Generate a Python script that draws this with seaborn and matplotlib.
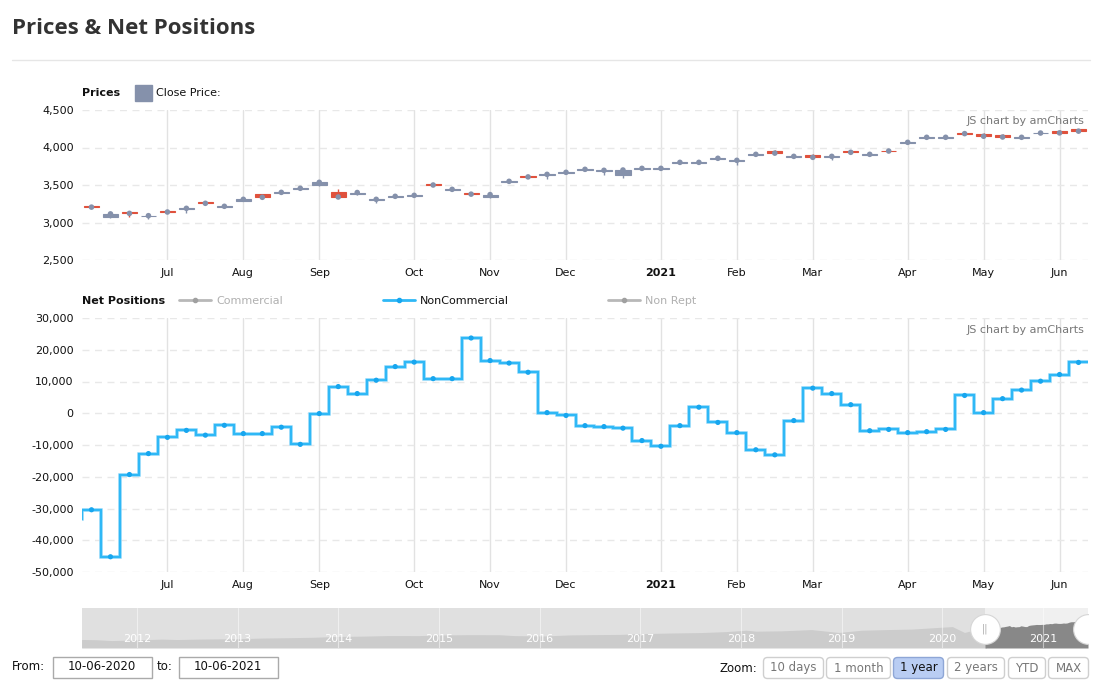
import numpy as np
import pandas as pd
import matplotlib
matplotlib.use("Agg")
import matplotlib.pyplot as plt
import seaborn as sns
from matplotlib.patches import Rectangle, FancyBboxPatch
from matplotlib.ticker import FuncFormatter, FixedLocator

# ---------------- data ----------------
week_start = "2020-06-02"          # first weekly report (partly outside view)
n_weeks = 54

opens = [3222, 3069, 3140, 3085, 3158, 3185, 3278, 3207, 3287, 3380, 3392, 3451, 3496,
         3411, 3380, 3305, 3345, 3355, 3518, 3438, 3398, 3336, 3545, 3615, 3635, 3665,
         3695, 3690, 3629, 3714, 3718, 3795, 3796, 3848, 3822, 3900, 3958, 3875, 3905,
         3876, 3958, 3903, 3958, 4062, 4128, 4130, 4190, 4184, 4171, 4130, 4188, 4224, 4242]
closes = [3205, 3115, 3122, 3091, 3140, 3189, 3256, 3216, 3309, 3336, 3402, 3456, 3536,
          3340, 3400, 3309, 3349, 3362, 3500, 3442, 3378, 3372, 3549, 3608, 3642, 3669,
          3709, 3696, 3700, 3722, 3722, 3802, 3802, 3856, 3829, 3909, 3925, 3882, 3869,
          3882, 3936, 3909, 3953, 4069, 4136, 4136, 4185, 4150, 4140, 4136, 4193, 4195, 4218]
highs = [3230, 3125, 3145, 3095, 3162, 3195, 3282, 3220, 3313, 3384, 3406, 3460, 3545,
         3451, 3405, 3312, 3352, 3366, 3522, 3446, 3402, 3378, 3553, 3618, 3646, 3673,
         3713, 3700, 3705, 3726, 3726, 3806, 3806, 3860, 3833, 3913, 3962, 3886, 3908,
         3886, 3962, 3913, 3962, 4073, 4140, 4140, 4194, 4188, 4175, 4171, 4197, 4228, 4246]
lows = [3195, 3060, 3069, 3042, 3132, 3131, 3252, 3200, 3283, 3332, 3376, 3447, 3492,
        3334, 3372, 3256, 3340, 3350, 3495, 3434, 3374, 3332, 3541, 3604, 3580, 3661,
        3690, 3638, 3593, 3710, 3714, 3791, 3792, 3844, 3767, 3896, 3920, 3871, 3865,
        3833, 3932, 3899, 3950, 4058, 4124, 4126, 4182, 4145, 4135, 4126, 4184, 4190, 4214]

noncommercial = [-33400, -30400, -45200, -19300, -12700, -7600, -5400, -6900, -3800, -6400,
                 -6400, -4400, -9800, -100, 8400, 6200, 10400, 14700, 16100, 10900, 10900,
                 23700, 16600, 15800, 12900, 200, -700, -3900, -4200, -4700, -8600, -10400,
                 -3900, 1900, -2900, -6100, -11500, -13100, -2300, 7900, 6200, 2700, -5500,
                 -5100, -6100, -5800, -5100, 5600, 200, 4600, 7300, 10100, 12200, 16000]

# scrollbar history (decimal year, price)
nav_years = [2011.45, 2011.6, 2011.75, 2011.9, 2012.0, 2012.25, 2012.4, 2012.6, 2012.8, 2013.0,
             2013.25, 2013.5, 2013.75, 2014.0, 2014.25, 2014.5, 2014.8, 2015.0, 2015.3, 2015.6,
             2015.75, 2016.05, 2016.3, 2016.5, 2016.8, 2017.0, 2017.3, 2017.6, 2017.85, 2018.05,
             2018.15, 2018.4, 2018.7, 2018.97, 2019.2, 2019.45, 2019.7, 2019.95, 2020.1, 2020.22,
             2020.32, 2020.42]
nav_values = [1340, 1300, 1170, 1230, 1280, 1400, 1330, 1400, 1440, 1460,
              1570, 1620, 1690, 1820, 1870, 1960, 1950, 2050, 2100, 2090,
              1950, 1900, 2060, 2100, 2140, 2260, 2360, 2430, 2580, 2800,
              2650, 2700, 2900, 2450, 2800, 2900, 2980, 3230, 3370, 2450,
              2850, 3100]
nav_year_labels = [2012, 2013, 2014, 2015, 2016, 2017, 2018, 2019, 2020, 2021]

zoom_buttons = ["10 days", "1 month", "1 year", "2 years", "YTD", "MAX"]
active_button = "1 year"
date_from, date_to = "10-06-2020", "10-06-2021"

# ---------------- styling ----------------
GRAY = "#8591ab"
RED = "#e0513c"
BLUE = "#2fb8f6"
BLUE_DOT = "#17a6ef"
GRID = "#e8e8e8"

sns.set_theme(style="white")
plt.rcParams["font.family"] = ["DejaVu Sans"]

W, H = 1107, 695
fig = plt.figure(figsize=(W / 100, H / 100), dpi=100)
fig.patch.set_facecolor("white")


def rect(x0, y0, x1, y1):
    return [x0 / W, 1 - y1 / H, (x1 - x0) / W, (y1 - y0) / H]


ax1 = fig.add_axes(rect(82, 110, 1088, 260))
ax2 = fig.add_axes(rect(82, 318, 1088, 572))
ax3 = fig.add_axes(rect(82, 608, 1088, 648))

dates = pd.date_range(week_start, periods=n_weeks, freq="7D")
pos_all = np.arange(n_weeks) - 1          # -1 .. 52
price_pos = pos_all[1:]
o = np.array(opens, float); c = np.array(closes, float)
hi = np.array(highs, float); lo = np.array(lows, float)
up = c >= o
cols = np.where(up, GRAY, RED)

# month ticks
tick_pos, tick_lab = [], []
for k in range(1, n_weeks):
    if dates[k].month != dates[k - 1].month:
        tick_pos.append(pos_all[k])
        tick_lab.append(str(dates[k].year) if dates[k].month == 1 else dates[k].strftime("%b"))

for ax in (ax1, ax2):
    ax.set_xlim(-0.5, 52.5)
    for s in ax.spines.values():
        s.set_visible(False)
    ax.set_facecolor("white")
    ax.xaxis.set_major_locator(FixedLocator(tick_pos))
    ax.set_xticklabels(tick_lab)
    ax.grid(axis="x", color="#e2e2e2", lw=1, ls="-")
    ax.grid(axis="y", color=GRID, lw=1, ls=(0, (5, 4)))
    ax.tick_params(axis="both", length=0, labelsize=8, colors="#111")
    ax.tick_params(axis="y", pad=6)
    ax.tick_params(axis="x", pad=6)
    ax.yaxis.set_major_formatter(FuncFormatter(lambda v, p: f"{v:,.0f}"))
    ax.set_axisbelow(True)
    for t in ax.get_xticklabels():
        if t.get_text().isdigit():
            t.set_fontweight("bold")

# ---- price candles ----
ax1.set_ylim(2500, 4500)
ax1.set_yticks([2500, 3000, 3500, 4000, 4500])
ax1.vlines(price_pos, lo, hi, colors=cols, lw=1, zorder=2)
ax1.bar(price_pos, np.abs(c - o), bottom=np.minimum(o, c), width=0.8, color=cols,
        edgecolor=cols, linewidth=0.8, zorder=3)
dfp = pd.DataFrame({"pos": price_pos, "close": c})
sns.scatterplot(data=dfp, x="pos", y="close", ax=ax1, color=GRAY, s=16,
                edgecolor="none", zorder=5, legend=False)
ax1.set_xlabel(""); ax1.set_ylabel("")

# ---- net positions ----
ax2.set_ylim(-50000, 30000)
ax2.set_yticks(np.arange(-50000, 30001, 10000))
nc = np.array(noncommercial, float)
edges = np.arange(-1.5, 53.0, 1.0)
ax2.stairs(nc, edges=edges, baseline=None, color="#a8e0fb", lw=2.6, zorder=3)
ax2.stairs(nc, edges=edges, baseline=None, color=BLUE, lw=1.7, zorder=4)
dfn = pd.DataFrame({"pos": pos_all, "net": nc})
sns.scatterplot(data=dfn, x="pos", y="net", ax=ax2, color=BLUE_DOT, s=14,
                edgecolor="none", zorder=5, legend=False)
ax2.set_xlabel(""); ax2.set_ylabel("")

# ---- scrollbar ----
def dec_year(d):
    start = pd.Timestamp(year=d.year, month=1, day=1)
    return d.year + (d - start).days / (366 if d.is_leap_year else 365)

sel_start, nav_right = 2020.424, 2021.447
ax3.set_xlim(2011.454, nav_right)
ax3.set_ylim(0, 6300)
ax3.set_facecolor("#e0e0e0")
for s in ax3.spines.values():
    s.set_visible(False)
ax3.set_xticks([]); ax3.set_yticks([])
ax3.axvspan(sel_start, nav_right, color="#f0f0f0", zorder=1, lw=0)
wk_years = [dec_year(d) for d in dates[1:]]
hx = list(nav_years) + [wk_years[0]]
hy = list(nav_values) + [closes[0]]
ax3.fill_between(hx, 0, hy, color="#cccccc", lw=0, zorder=2)
ax3.fill_between([sel_start] + wk_years + [nav_right], 0,
                 [closes[0]] + list(closes) + [closes[-1]], color="#888888", lw=0, zorder=2)
for yr in nav_year_labels:
    ax3.axvline(yr, color="white", lw=0.8, alpha=0.5, zorder=3)
    ax3.text(yr, 0.22 * 6300, str(yr), color="white", fontsize=8, ha="center",
             va="center", zorder=4)
ax3.scatter([sel_start, nav_right], [3000, 3000], s=460, color="white",
            edgecolor="#d6d6d6", linewidth=0.8, zorder=6)
ax3.text(sel_start, 3000, "||", color="#aaaaaa", fontsize=7, ha="center", va="center", zorder=7)

# ---------------- overlay (pixel coordinates) ----------------
axo = fig.add_axes([0, 0, 1, 1], zorder=10)
axo.set_xlim(0, W); axo.set_ylim(H, 0); axo.axis("off")
axo.patch.set_alpha(0)

axo.text(12, 28, "Prices & Net Positions", fontsize=16, fontweight="bold",
         family=["Open Sans", "DejaVu Sans"], color="#333333", va="center", ha="left")
axo.plot([12, 1090], [59.5, 59.5], color="#e6e6e6", lw=1)

# price legend
axo.text(82, 93, "Prices", fontsize=8, fontweight="bold", color="#111", va="center")
axo.add_patch(Rectangle((135, 84.5), 16.5, 16.5, color=GRAY))
axo.text(156, 93, "Close Price:", fontsize=8, color="#111", va="center")
axo.text(1084, 121, "JS chart by amCharts", fontsize=8, color="#777", ha="right", va="center")

# net legend
axo.text(82, 301, "Net Positions", fontsize=8, fontweight="bold", color="#111", va="center")
for (x0, lab, lc, dc, tc) in [(179, "Commercial", "#b8b8b8", "#a0a0a0", "#b0b0b0"),
                              (383, "NonCommercial", BLUE, BLUE_DOT, "#111"),
                              (608, "Non Rept", "#b8b8b8", "#a0a0a0", "#b0b0b0")]:
    axo.plot([x0, x0 + 32], [300, 300], color=lc, lw=2)
    axo.plot([x0 + 16], [300], "o", color=dc, ms=3)
    axo.text(x0 + 37, 301, lab, fontsize=8, color=tc, va="center")
axo.text(1084, 330, "JS chart by amCharts", fontsize=8, color="#777", ha="right", va="center")

# date inputs
axo.text(12, 667, "From:", fontsize=8.5, color="#111", va="center")
axo.add_patch(Rectangle((52.5, 656.5), 99.5, 21, facecolor="white", edgecolor="#aaaaaa", lw=1))
axo.text(102, 667, date_from, fontsize=8.5, color="#111", va="center", ha="center")
axo.text(157, 667, "to:", fontsize=8.5, color="#111", va="center")
axo.add_patch(Rectangle((178.5, 656.5), 99.5, 21, facecolor="white", edgecolor="#aaaaaa", lw=1))
axo.text(228, 667, date_to, fontsize=8.5, color="#111", va="center", ha="center")

# zoom buttons
axo.text(757, 668, "Zoom:", fontsize=8.5, color="#111", va="center", ha="right")
btn_x = [(763, 824), (826, 891), (893, 944), (947, 1005), (1008, 1046), (1048, 1089)]
for (bx0, bx1), lab in zip(btn_x, zoom_buttons):
    active = lab == active_button
    axo.add_patch(FancyBboxPatch((bx0 + 0.5, 657.5), bx1 - bx0 - 1, 21,
                                 boxstyle="round,pad=0,rounding_size=4",
                                 facecolor="#b9cdf3" if active else "white",
                                 edgecolor="#8ea6d6" if active else "#cfcfcf", lw=1))
    axo.text((bx0 + bx1) / 2, 668, lab, fontsize=8.5,
             color="#111" if active else "#777", ha="center", va="center")

fig.savefig("out.png", dpi=100, facecolor="white")
